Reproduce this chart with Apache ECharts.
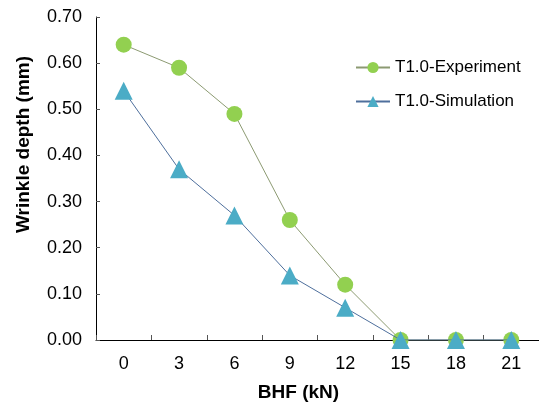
<!DOCTYPE html>
<html>
<head>
<meta charset="utf-8">
<script src="https://cdn.jsdelivr.net/npm/echarts@6/dist/echarts.min.js"></script>
<style>
  html, body { margin: 0; padding: 0; background: #fff; }
  #chart { width: 539px; height: 408px; }
</style>
</head>
<body>
<div id="chart"></div>
<script>
const bhf = ['0', '3', '6', '9', '12', '15', '18', '21'];
const experiment = [0.64, 0.59, 0.49, 0.26, 0.12, 0, 0, 0];
const simulation = [0.54, 0.37, 0.27, 0.14, 0.07, 0, 0, 0];

const font = 'Liberation Sans, Arial, sans-serif';
const chart = echarts.init(document.getElementById('chart'), null, { renderer: 'canvas' });

chart.setOption({
  backgroundColor: '#fff',
  animation: false,
  grid: { left: 96, right: -1, top: 17, bottom: 68, containLabel: false },
  legend: {
    orient: 'vertical',
    left: 350,
    top: 54,
    itemWidth: 34,
    itemHeight: 14,
    itemGap: 17,
    textStyle: { fontFamily: font, fontSize: 17, color: '#000' },
    data: ['T1.0-Experiment', 'T1.0-Simulation'],
  },
  xAxis: {
    type: 'category',
    data: bhf,
    boundaryGap: true,
    name: 'BHF (kN)',
    nameLocation: 'middle',
    nameGap: 43,
    nameTextStyle: { fontFamily: font, fontSize: 19, fontWeight: 'bold', color: '#000', padding: [0, 38, 0, 0] },
    axisLine: { lineStyle: { color: '#000', width: 1 } },
    axisTick: { show: true, inside: true, length: 5, alignWithLabel: false, lineStyle: { color: '#555' } },
    axisLabel: { fontFamily: font, fontSize: 18, color: '#000', margin: 15 },
    splitLine: { show: false },
  },
  yAxis: {
    type: 'value',
    min: 0,
    max: 0.7,
    interval: 0.1,
    name: 'Wrinkle depth (mm)',
    nameLocation: 'middle',
    nameGap: 63,
    nameRotate: 90,
    nameTextStyle: { fontFamily: font, fontSize: 19, fontWeight: 'bold', color: '#000', padding: [0, 0, 0, 68] },
    axisLine: { show: true, lineStyle: { color: '#000', width: 1 } },
    axisTick: { show: true, inside: true, length: 4, lineStyle: { color: '#555' } },
    axisLabel: { fontFamily: font, fontSize: 18, color: '#000', margin: 14, formatter: v => v.toFixed(2) },
    splitLine: { show: false },
  },
  series: [
    {
      name: 'T1.0-Experiment',
      type: 'line',
      data: experiment,
      symbol: 'circle',
      symbolSize: 16,
      itemStyle: { color: '#92D050' },
      lineStyle: { color: '#8C9A72', width: 1 },
      z: 2,
    },
    {
      name: 'T1.0-Simulation',
      type: 'line',
      data: simulation,
      symbol: 'triangle',
      symbolSize: 18,
      itemStyle: { color: '#4BACC6' },
      lineStyle: { color: '#4E6F9C', width: 1 },
      z: 3,
    },
  ],
});
</script>
</body>
</html>
